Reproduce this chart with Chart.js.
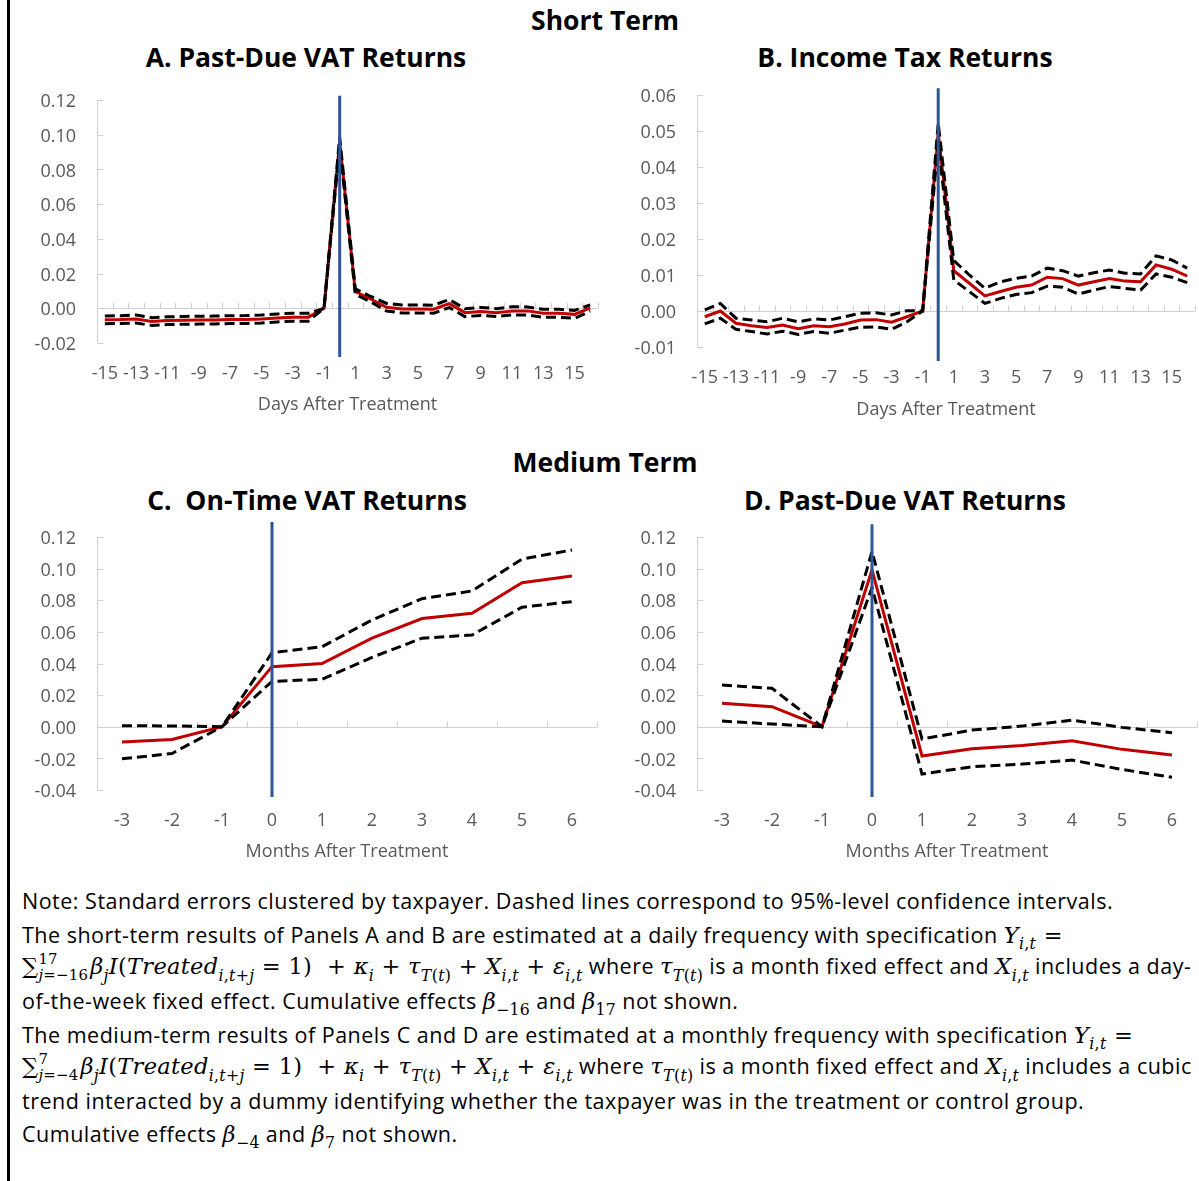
<!DOCTYPE html>
<html lang="en">
<head>
<meta charset="utf-8">
<title>Short and medium term treatment effects</title>
<script src="https://cdn.jsdelivr.net/npm/chart.js@4.4.1/dist/chart.umd.min.js"></script>
<style>
  html, body { margin: 0; padding: 0; background: #fff; }
  body { position: relative; width: 1199px; height: 1181px; overflow: hidden; font-family: "Open Sans", sans-serif; }
  .rule { position: absolute; left: 7px; top: 0; width: 3px; height: 1181px; background: #000; }
  .ttl { position: absolute; font-weight: 700; font-size: 26.5px; color: #000; white-space: nowrap; transform: translate(-50%, -50%); line-height: 1; }
  canvas { position: absolute; }
  .note { position: absolute; left: 22px; font-size: 21.5px; letter-spacing: 0.5px; color: #000; white-space: nowrap; line-height: 1; transform: translateY(-50%); }
  .m { font-family: "DejaVu Serif", serif; font-size: 22.5px; letter-spacing: 0.3px; }
  .m i, i.m { font-style: italic; }
  .sb { font-size: 70%; vertical-align: -0.4em; line-height: 0; }
  .lim { display: inline-block; vertical-align: middle; font-size: 66%; line-height: 1.05; margin-right: 2px; }
  .lim > span { display: block; }
</style>
</head>
<body>
<div class="rule"></div>

<div class="ttl" style="left:605px; top:20px;">Short Term</div>
<div class="ttl" style="left:306px; top:57px;">A. Past-Due VAT Returns</div>
<div class="ttl" style="left:905px; top:57px;">B. Income Tax Returns</div>
<div class="ttl" style="left:605px; top:462px;">Medium Term</div>
<div class="ttl" style="left:307px; top:500px;">C.&nbsp; On-Time VAT Returns</div>
<div class="ttl" style="left:905px; top:500px;">D. Past-Due VAT Returns</div>

<canvas id="panelA" width="585" height="335" style="left:20px; top:85px;"></canvas>
<canvas id="panelB" width="579" height="345" style="left:620px; top:80px;"></canvas>
<canvas id="panelC" width="585" height="355" style="left:20px; top:512px;"></canvas>
<canvas id="panelD" width="579" height="355" style="left:620px; top:512px;"></canvas>

<div class="note" style="top:901px;">Note: Standard errors clustered by taxpayer. Dashed lines correspond to 95%-level confidence intervals.</div>
<div class="note" style="top:935px;">The short-term results of Panels A and B are estimated at a daily frequency with specification <span class="m"><i>Y</i><span class="sb"><i>i</i>,<i>t</i></span> =</span></div>
<div class="note" style="top:968px;"><span class="m">∑<span class="lim"><span>17</span><span><i>j</i>=−16</span></span><i>β</i><span class="sb"><i>j</i></span><i>I</i>(<i>Treated</i><span class="sb"><i>i</i>,<i>t</i>+<i>j</i></span> = 1) &nbsp;+ <i>κ</i><span class="sb"><i>i</i></span> + <i>τ</i><span class="sb"><i>T</i>(<i>t</i>)</span> + <i>X</i><span class="sb"><i>i</i>,<i>t</i></span> + <i>ε</i><span class="sb"><i>i</i>,<i>t</i></span></span> where <span class="m"><i>τ</i><span class="sb"><i>T</i>(<i>t</i>)</span></span> is a month fixed effect and <span class="m"><i>X</i><span class="sb"><i>i</i>,<i>t</i></span></span> includes a day-</div>
<div class="note" style="top:1001px;">of-the-week fixed effect. Cumulative effects <span class="m"><i>β</i><span class="sb">−16</span></span> and <span class="m"><i>β</i><span class="sb">17</span></span> not shown.</div>
<div class="note" style="top:1035px;">The medium-term results of Panels C and D are estimated at a monthly frequency with specification <span class="m"><i>Y</i><span class="sb"><i>i</i>,<i>t</i></span> =</span></div>
<div class="note" style="top:1068px;"><span class="m">∑<span class="lim"><span>7</span><span><i>j</i>=−4</span></span><i>β</i><span class="sb"><i>j</i></span><i>I</i>(<i>Treated</i><span class="sb"><i>i</i>,<i>t</i>+<i>j</i></span> = 1) &nbsp;+ <i>κ</i><span class="sb"><i>i</i></span> + <i>τ</i><span class="sb"><i>T</i>(<i>t</i>)</span> + <i>X</i><span class="sb"><i>i</i>,<i>t</i></span> + <i>ε</i><span class="sb"><i>i</i>,<i>t</i></span></span> where <span class="m"><i>τ</i><span class="sb"><i>T</i>(<i>t</i>)</span></span> is a month fixed effect and <span class="m"><i>X</i><span class="sb"><i>i</i>,<i>t</i></span></span> includes a cubic</div>
<div class="note" style="top:1101px;">trend interacted by a dummy identifying whether the taxpayer was in the treatment or control group.</div>
<div class="note" style="top:1134px;">Cumulative effects <span class="m"><i>β</i><span class="sb">−4</span></span> and <span class="m"><i>β</i><span class="sb">7</span></span> not shown.</div>

<script>
// ---- categories ----
const days = [-15, -14, -13, -12, -11, -10, -9, -8, -7, -6, -5, -4, -3, -2, -1, 0,
              1, 2, 3, 4, 5, 6, 7, 8, 9, 10, 11, 12, 13, 14, 15, 16];
const months = [-3, -2, -1, 0, 1, 2, 3, 4, 5, 6];

// ---- A. Past-due VAT returns (daily) ----
const pastDueDailyEst = [-0.0066, -0.0065, -0.0062, -0.0076, -0.0071, -0.0069, -0.0068, -0.0067,
  -0.0065, -0.0064, -0.0062, -0.0056, -0.0051, -0.0051, 0, 0.096,
  0.0096, 0.0052, 0.0006, -0.0004, -0.0004, -0.0005, 0.0027, -0.0025,
  -0.0018, -0.0025, -0.0015, -0.0015, -0.0029, -0.0029, -0.0035, 0.0002];
const pastDueDailyUpper = [-0.0044, -0.0043, -0.0039, -0.0054, -0.0049, -0.0047, -0.0046, -0.0045,
  -0.0043, -0.0042, -0.0039, -0.0033, -0.0028, -0.0028, 0, 0.0985,
  0.0112, 0.0068, 0.0028, 0.0019, 0.0019, 0.0018, 0.0050, -0.0002,
  0.0005, -0.0002, 0.0009, 0.0008, -0.0006, -0.0006, -0.0012, 0.0020];
const pastDueDailyLower = [-0.0089, -0.0088, -0.0085, -0.0099, -0.0094, -0.0092, -0.0091, -0.0090,
  -0.0088, -0.0087, -0.0085, -0.0079, -0.0074, -0.0074, 0, 0.0935,
  0.0080, 0.0036, -0.0016, -0.0027, -0.0027, -0.0028, 0.0004, -0.0048,
  -0.0041, -0.0048, -0.0038, -0.0038, -0.0052, -0.0052, -0.0058, -0.0016];

// ---- B. Income tax returns (daily) ----
const incomeTaxEst = [-0.0016, 0.0000, -0.0034, -0.0041, -0.0046, -0.0039, -0.0049, -0.0041,
  -0.0044, -0.0036, -0.0025, -0.0024, -0.0031, -0.0016, 0, 0.0495,
  0.0112, 0.0077, 0.0042, 0.0054, 0.0066, 0.0072, 0.0094, 0.0090,
  0.0072, 0.0081, 0.0090, 0.0083, 0.0081, 0.0128, 0.0116, 0.0097];
const incomeTaxUpper = [0.0003, 0.0021, -0.0020, -0.0025, -0.0030, -0.0020, -0.0030, -0.0022,
  -0.0025, -0.0016, -0.0006, -0.0005, -0.0011, 0.0001, 0, 0.0522,
  0.0140, 0.0100, 0.0063, 0.0081, 0.0091, 0.0097, 0.0119, 0.0112,
  0.0097, 0.0106, 0.0114, 0.0105, 0.0103, 0.0153, 0.0142, 0.0119];
const incomeTaxLower = [-0.0036, -0.0020, -0.0051, -0.0057, -0.0064, -0.0056, -0.0065, -0.0057,
  -0.0062, -0.0053, -0.0045, -0.0044, -0.0051, -0.0030, 0, 0.0465,
  0.0086, 0.0054, 0.0021, 0.0035, 0.0046, 0.0051, 0.0069, 0.0066,
  0.0047, 0.0058, 0.0068, 0.0063, 0.0058, 0.0103, 0.0094, 0.0079];

// ---- C. On-time VAT returns (monthly) ----
const onTimeEst   = [-0.0097, -0.0080, 0, 0.0380, 0.0400, 0.0560, 0.0684, 0.0718, 0.0911, 0.0954];
const onTimeUpper = [0.0007, 0.0005, 0, 0.0468, 0.0506, 0.0675, 0.0810, 0.0859, 0.1060, 0.1118];
const onTimeLower = [-0.0203, -0.0169, 0, 0.0287, 0.0300, 0.0439, 0.0560, 0.0580, 0.0756, 0.0791];

// ---- D. Past-due VAT returns (monthly) ----
const pastDueMonthlyEst   = [0.0148, 0.0127, 0, 0.0992, -0.0185, -0.0139, -0.0118, -0.0089, -0.0143, -0.0179];
const pastDueMonthlyUpper = [0.0264, 0.0243, 0, 0.1108, -0.0078, -0.0021, 0.0004, 0.0042, -0.0004, -0.0038];
const pastDueMonthlyLower = [0.0036, 0.0017, 0, 0.0880, -0.0299, -0.0253, -0.0236, -0.0211, -0.0270, -0.0320];

// ---- value-axis ticks ----
const ticksA  = [-0.02, 0, 0.02, 0.04, 0.06, 0.08, 0.10, 0.12];
const ticksB  = [-0.01, 0, 0.01, 0.02, 0.03, 0.04, 0.05, 0.06];
const ticksCD = [-0.04, -0.02, 0, 0.02, 0.04, 0.06, 0.08, 0.10, 0.12];

// ---- vertical treatment marker (category 0), low/high values ----
const markerA = [-0.028, 0.1224];
const markerB = [-0.0139, 0.0619];
const markerC = [-0.0444, 0.1295];
const markerD = [-0.0444, 0.1280];

const RED = '#C00000';
const BLUE = '#2F5597';
const GREY_TEXT = '#595959';
const AXIS = '#D0D0D0';
const FONT = "'Open Sans', sans-serif";

// Excel-style axes: value axis on the left with inner ticks,
// category axis drawn through zero with upward ticks between categories.
const excelAxes = {
  id: 'excelAxes',
  beforeDatasetsDraw(chart) {
    const { ctx, chartArea: a, scales: { x, y } } = chart;
    ctx.save();
    ctx.strokeStyle = AXIS;
    ctx.lineWidth = 1;
    ctx.beginPath();
    const lx = Math.round(a.left) + 0.5;
    ctx.moveTo(lx, a.top);
    ctx.lineTo(lx, a.bottom);
    y.ticks.forEach(t => {
      const py = Math.round(y.getPixelForValue(t.value)) + 0.5;
      ctx.moveTo(lx, py);
      ctx.lineTo(lx + 6, py);
    });
    const zy = Math.round(y.getPixelForValue(0)) + 0.5;
    ctx.moveTo(a.left, zy);
    ctx.lineTo(a.right, zy);
    const n = x.getLabels().length;
    for (let i = 1; i <= n; i++) {
      const px = Math.round(a.left + (a.right - a.left) * i / n) + 0.5;
      ctx.moveTo(px, zy);
      ctx.lineTo(px, zy - 6);
    }
    ctx.stroke();
    ctx.restore();
  }
};

function panel(id, o) {
  const labels = o.cats.map(String);
  return new Chart(document.getElementById(id), {
    type: 'line',
    data: {
      labels,
      datasets: [
        { label: 'Treatment', data: o.marker.map(v => ({ x: '0', y: v })), borderColor: BLUE, borderWidth: 3, order: 0, clip: false },
        { label: 'Upper 95% CI', data: o.upper, borderColor: '#000', borderWidth: 3, borderDash: [10, 5], order: 1 },
        { label: 'Lower 95% CI', data: o.lower, borderColor: '#000', borderWidth: 3, borderDash: [10, 5], order: 2 },
        { label: 'Estimate', data: o.est, borderColor: RED, borderWidth: 3, order: 3 }
      ]
    },
    options: {
      responsive: false,
      animation: false,
      devicePixelRatio: 1,
      layout: { padding: { top: o.padTop, right: o.padRight, left: 0, bottom: 0 } },
      plugins: { legend: { display: false }, tooltip: { enabled: false }, title: { display: false } },
      elements: {
        point: { radius: 0, hoverRadius: 0 },
        line: { tension: 0, fill: false, borderCapStyle: 'butt', borderJoinStyle: 'miter' }
      },
      scales: {
        x: {
          type: 'category',
          offset: true,
          grid: { display: false, drawTicks: false },
          border: { display: false },
          ticks: {
            autoSkip: false, maxRotation: 0, minRotation: 0, padding: 20,
            color: GREY_TEXT, font: { family: FONT, size: 18 },
            callback(value, index) { return index % o.every === 0 ? this.getLabelForValue(value) : ''; }
          },
          title: {
            display: true, text: o.xTitle, color: GREY_TEXT,
            font: { family: FONT, size: 18 }, padding: { top: 4, bottom: 4 }
          },
          afterFit(s) { s.height = o.xHeight; s.paddingLeft = 0; s.paddingRight = 0; }
        },
        y: {
          type: 'linear',
          min: o.yTicks[0],
          max: o.yTicks[o.yTicks.length - 1],
          grid: { display: false, drawTicks: false },
          border: { display: false },
          afterBuildTicks(s) { s.ticks = o.yTicks.map(v => ({ value: v })); },
          ticks: {
            padding: 21, labelOffset: 2, color: GREY_TEXT, font: { family: FONT, size: 18 },
            callback: v => Number(v).toFixed(2)
          },
          afterFit(s) { s.width = 77; s.paddingTop = 0; s.paddingBottom = 0; }
        }
      }
    },
    plugins: [excelAxes]
  });
}

panel('panelA', { cats: days, est: pastDueDailyEst, upper: pastDueDailyUpper, lower: pastDueDailyLower,
  marker: markerA, yTicks: ticksA, every: 2, xTitle: 'Days After Treatment', padTop: 15, padRight: 7, xHeight: 77 });
panel('panelB', { cats: days, est: incomeTaxEst, upper: incomeTaxUpper, lower: incomeTaxLower,
  marker: markerB, yTicks: ticksB, every: 2, xTitle: 'Days After Treatment', padTop: 15, padRight: 4, xHeight: 78 });
panel('panelC', { cats: months, est: onTimeEst, upper: onTimeUpper, lower: onTimeLower,
  marker: markerC, yTicks: ticksCD, every: 1, xTitle: 'Months After Treatment', padTop: 25, padRight: 8, xHeight: 77 });
panel('panelD', { cats: months, est: pastDueMonthlyEst, upper: pastDueMonthlyUpper, lower: pastDueMonthlyLower,
  marker: markerD, yTicks: ticksCD, every: 1, xTitle: 'Months After Treatment', padTop: 25, padRight: 2, xHeight: 77 });
</script>
</body>
</html>
